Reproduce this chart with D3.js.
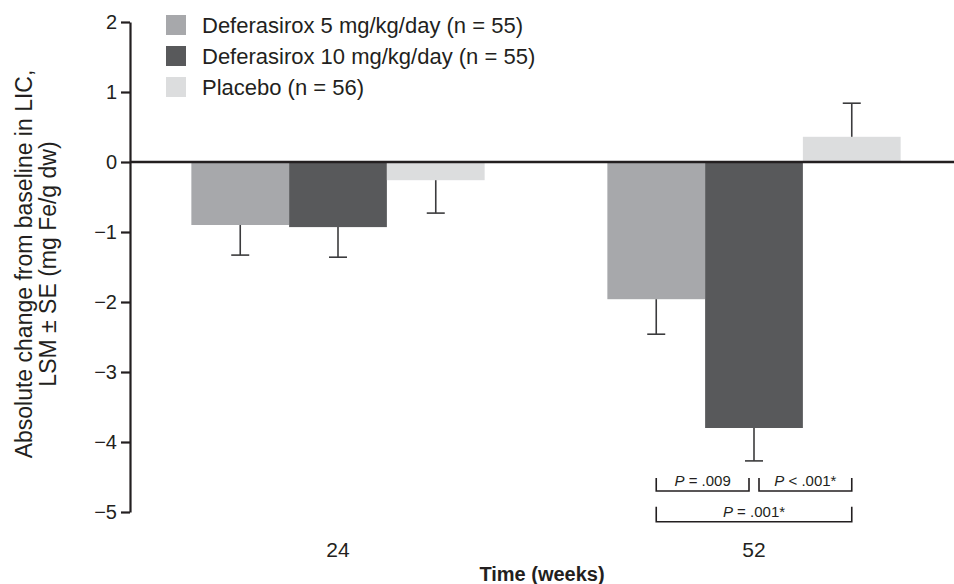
<!DOCTYPE html>
<meta charset="utf-8">
<script src="https://d3js.org/d3.v7.min.js"></script>
<style>
  body { margin: 0; background: #fff; }
  text { font-family: "Liberation Sans", Arial, sans-serif; fill: #231f20; }
</style>
<div id="chart"></div>
<script>
// data
var weeks = ["24", "52"];
var seriesNames = ["Deferasirox 5 mg/kg/day (n = 55)", "Deferasirox 10 mg/kg/day (n = 55)", "Placebo (n = 56)"];
var lsm5 = [-0.90, -1.96];
var lsm10 = [-0.93, -3.80];
var lsmPlacebo = [-0.26, 0.36];
var se5 = [0.43, 0.50];
var se10 = [0.43, 0.47];
var sePlacebo = [0.47, 0.48];
var colors = ["#a7a8ab", "#58595b", "#dcddde"];
var yTicks = [2, 1, 0, -1, -2, -3, -4, -5];
var pLabels = [
  {week: "52", from: 0, to: 1, text: ".009", sign: "=", level: -4.7},
  {week: "52", from: 1, to: 2, text: ".001*", sign: "<", level: -4.7},
  {week: "52", from: 0, to: 2, text: ".001*", sign: "=", level: -5.14}
];

var width = 954, height = 584;
var svg = d3.select("#chart").append("svg")
  .attr("width", width)
  .attr("height", height);

var rows = [];
weeks.forEach(function(w, i) {
  rows.push({week: w, s: 0, v: lsm5[i], se: se5[i]});
  rows.push({week: w, s: 1, v: lsm10[i], se: se10[i]});
  rows.push({week: w, s: 2, v: lsmPlacebo[i], se: sePlacebo[i]});
});

var y = d3.scaleLinear().domain([2, -5]).range([22, 512]);
var x0 = d3.scaleBand().domain(weeks).range([130, 962]);
var groupW = x0.bandwidth() * 0.705;
var x1 = d3.scaleBand().domain([0, 1, 2])
  .range([(x0.bandwidth() - groupW) / 2, (x0.bandwidth() + groupW) / 2]);

function barX(d) { return x0(d.week) + x1(d.s); }
function barC(w, s) { return x0(w) + x1(s) + x1.bandwidth() / 2; }

// bars
svg.selectAll("rect.bar")
  .data(rows)
  .enter()
  .append("rect")
    .attr("class", "bar")
    .attr("x", barX)
    .attr("width", x1.bandwidth())
    .attr("y", function(d) { return y(Math.max(0, d.v)); })
    .attr("height", function(d) { return Math.abs(y(d.v) - y(0)); })
    .attr("fill", function(d) { return colors[d.s]; });

// one-sided error bars
var capW = 18;
var err = svg.selectAll("g.err")
  .data(rows)
  .enter()
  .append("g")
    .attr("stroke", "#3b3b3d")
    .attr("stroke-width", 1.6);
err.append("line")
  .attr("x1", function(d) { return barC(d.week, d.s); })
  .attr("x2", function(d) { return barC(d.week, d.s); })
  .attr("y1", function(d) { return y(d.v); })
  .attr("y2", function(d) { return y(d.v + (d.v < 0 ? -d.se : d.se)); });
err.append("line")
  .attr("x1", function(d) { return barC(d.week, d.s) - capW / 2; })
  .attr("x2", function(d) { return barC(d.week, d.s) + capW / 2; })
  .attr("y1", function(d) { return y(d.v + (d.v < 0 ? -d.se : d.se)); })
  .attr("y2", function(d) { return y(d.v + (d.v < 0 ? -d.se : d.se)); });

// zero line
svg.append("line")
  .attr("x1", 130).attr("x2", width)
  .attr("y1", y(0)).attr("y2", y(0))
  .attr("stroke", "#231f20")
  .attr("stroke-width", 2.5);

// y axis
var yAxis = svg.append("g")
  .attr("transform", "translate(130,0)")
  .call(d3.axisLeft(y).tickValues(yTicks).tickSize(9).tickSizeOuter(0).tickPadding(4)
    .tickFormat(function(d) { return d < 0 ? "\u2212" + Math.abs(d) : d; }));
yAxis.select(".domain").attr("stroke", "#231f20").attr("stroke-width", 2.2);
yAxis.selectAll(".tick line").attr("stroke", "#231f20").attr("stroke-width", 2.2);
yAxis.selectAll(".tick text")
  .style("font-size", "20px")
  .style("font-family", "'Liberation Sans', Arial, sans-serif")
  .attr("fill", "#231f20");

// x labels (no axis line)
svg.selectAll("text.xlab")
  .data(weeks)
  .enter()
  .append("text")
    .attr("class", "xlab")
    .attr("x", function(d) { return x0(d) + x0.bandwidth() / 2; })
    .attr("y", 557)
    .attr("text-anchor", "middle")
    .style("font-size", "21px")
    .text(function(d) { return d; });

svg.append("text")
  .attr("x", 542)
  .attr("y", 581)
  .attr("text-anchor", "middle")
  .style("font-size", "20px")
  .style("font-weight", "bold")
  .text("Time (weeks)");

// y title
var yt = svg.append("text")
  .attr("transform", "translate(0,264)rotate(-90)")
  .attr("text-anchor", "middle")
  .style("font-size", "23px");
yt.append("tspan").attr("x", 0).attr("y", 32).text("Absolute change from baseline in LIC,");
yt.append("tspan").attr("x", 0).attr("y", 56).text("LSM \u00b1 SE (mg Fe/g dw)");

// legend
var leg = svg.selectAll("g.leg")
  .data(seriesNames)
  .enter()
  .append("g")
    .attr("transform", function(d, i) { return "translate(166," + (15 + i * 31) + ")"; });
leg.append("rect")
  .attr("width", 20).attr("height", 20)
  .attr("fill", function(d, i) { return colors[i]; });
leg.append("text")
  .attr("x", 36).attr("y", 18)
  .style("font-size", "22px")
  .text(function(d) { return d; });

// p-value brackets
var gap = 5;
var br = svg.selectAll("g.br")
  .data(pLabels)
  .enter()
  .append("g");
br.each(function(d) {
  var g = d3.select(this);
  var xa = barC(d.week, d.from) + (d.from === 1 ? gap : 0);
  var xb = barC(d.week, d.to) - (d.to === 1 ? gap : 0);
  var yy = y(d.level);
  var tick = d.level < -5 ? 15 : 13;
  g.append("path")
    .attr("d", "M" + xa + "," + (yy - tick) + "V" + yy + "H" + xb + "V" + (yy - tick))
    .attr("fill", "none")
    .attr("stroke", "#231f20")
    .attr("stroke-width", 1.6);
  var t = g.append("text")
    .attr("x", (xa + xb) / 2)
    .attr("y", yy - 5)
    .attr("text-anchor", "middle")
    .style("font-size", "15px");
  t.append("tspan").style("font-style", "italic").text("P");
  t.append("tspan").text(" " + d.sign + " " + d.text);
});
</script>
